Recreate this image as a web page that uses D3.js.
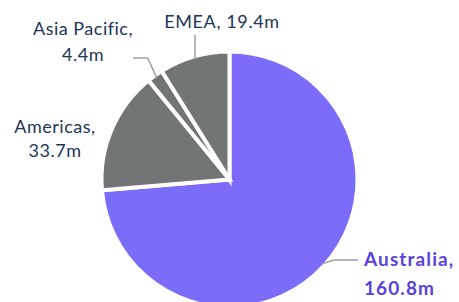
<!DOCTYPE html>
<html><head><meta charset="utf-8">
<script src="https://cdn.jsdelivr.net/npm/d3@7"></script>
<style>
html,body{margin:0;padding:0;background:#fff;}
svg{display:block;font-family:Lato,"Open Sans",sans-serif;}
</style></head>
<body>
<svg id="chart" width="459" height="302"></svg>
<script>
const categories = ["Australia", "Americas", "Asia Pacific", "EMEA"];
const values = [160.8, 33.7, 4.4, 19.4];
const valueLabels = ["160.8m", "33.7m", "4.4m", "19.4m"];

const W = 459, H = 302;
const cx = 229.5, cy = 179.5, R = 128;
const svg = d3.select("#chart");
const g = svg.append("g").attr("transform", `translate(${cx},${cy})`);

const color = d3.scaleOrdinal().domain(categories).range(["#7b6cf9", "#727575", "#727575", "#727575"]);
const pie = d3.pie().sort(null).value(d => d.v);
const data = categories.map((c, i) => ({c, v: values[i], l: valueLabels[i]}));
const arcs = pie(data);
const arc = d3.arc().innerRadius(0).outerRadius(R);
const outer = d3.arc().innerRadius(R - 3).outerRadius(R - 3);

g.selectAll("path.slice").data(arcs).join("path")
  .attr("class", "slice")
  .attr("d", arc)
  .attr("fill", d => color(d.data.c))
  .attr("stroke", "#fff")
  .attr("stroke-width", 4)
  .attr("stroke-linejoin", "miter");

// label layout (positions relative to svg)
const layout = {
  "Australia": {lines: [d => d.c + ",", d => d.l], x: 364, y: 266, dy: 29, anchor: "start", bold: true, size: 19, ls: 1.1, color: "#5a3fe0",
                leader: (p) => [[p[0], p[1]], [p[0] + 12, p[1] - 4], [358, p[1] - 4]]},
  "Americas": {lines: [d => d.c + ",", d => d.l], x: 55, y: 133, dy: 24, anchor: "middle", size: 18, ls: 0.5, color: "#1d3658", leader: null},
  "Asia Pacific": {lines: [d => d.c + ",", d => d.l], x: 83, y: 35, dy: 26, anchor: "middle", size: 18, ls: 0.5, color: "#1d3658",
                leader: (p) => [[p[0], p[1]], [p[0] - 9, 58], [133, 58]]},
  "EMEA": {lines: [d => d.c + ", " + d.l], x: 222, y: 28, dy: 0, anchor: "middle", size: 18, ls: 0.6, color: "#1d3658",
                leader: (p) => [[p[0], p[1]], [p[0], 35]]}
};

arcs.forEach(a => {
  const L = layout[a.data.c];
  const c = outer.centroid(a);
  const p = [c[0] + cx, c[1] + cy];
  if (L.leader) {
    svg.append("path")
      .attr("d", d3.line()(L.leader(p)))
      .attr("fill", "none")
      .attr("stroke", "#a0a0a0")
      .attr("stroke-width", 1.5);
  }
  const t = svg.append("text")
    .attr("text-anchor", L.anchor)
    .attr("fill", L.color)
    .attr("font-size", L.size)
    .attr("letter-spacing", L.ls)
    .attr("font-weight", L.bold ? 700 : 400);
  L.lines.forEach((fn, i) => {
    t.append("tspan").attr("x", L.x).attr("y", L.y + i * L.dy).text(fn(a.data));
  });
});
</script>
</body></html>
